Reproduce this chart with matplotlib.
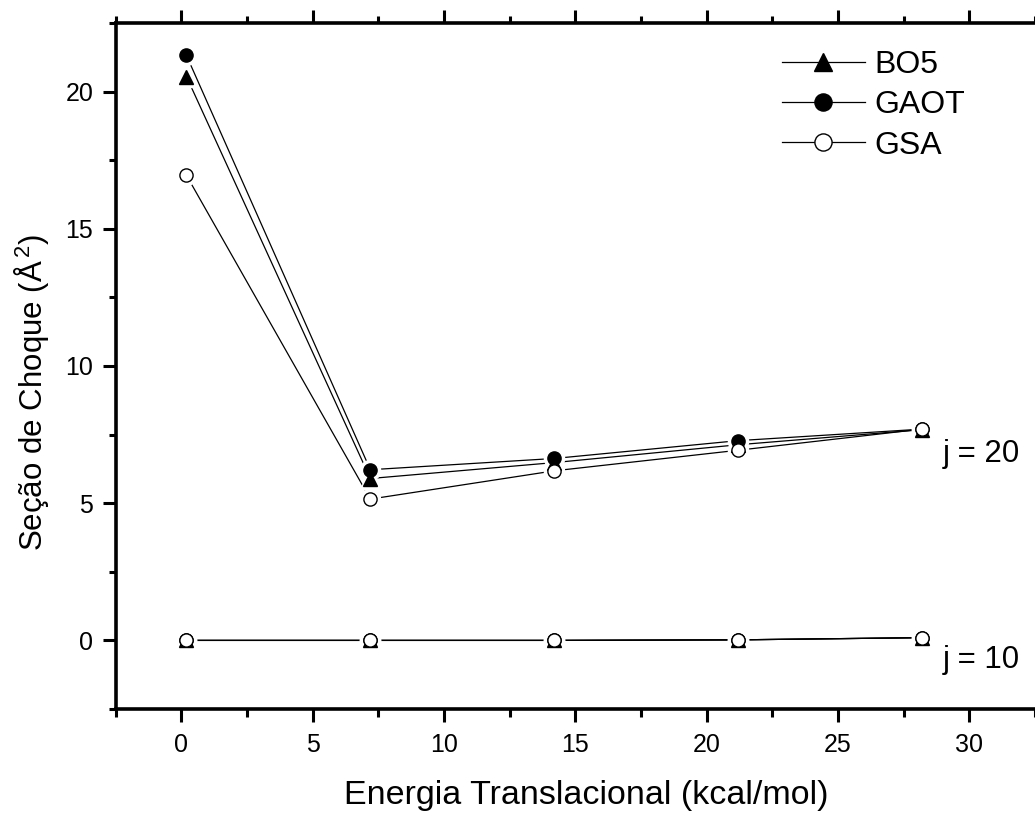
import matplotlib
matplotlib.use("Agg")
import matplotlib.pyplot as plt
from matplotlib.ticker import MultipleLocator

plt.rcParams['font.family'] = ['Liberation Sans', 'DejaVu Sans']
plt.rcParams['mathtext.fontset'] = 'custom'
plt.rcParams['mathtext.rm'] = 'Liberation Sans'

# Energia translacional (kcal/mol)
energia = [0.2, 7.2, 14.2, 21.2, 28.2]

# j = 20
bo5_j20 = [20.55, 5.9, 6.48, 7.13, 7.68]
gaot_j20 = [21.32, 6.22, 6.63, 7.28, 7.7]
gsa_j20 = [16.95, 5.15, 6.18, 6.93, 7.7]

# j = 10
bo5_j10 = [0.0, 0.0, 0.0, 0.02, 0.1]
gaot_j10 = [0.0, 0.0, 0.0, 0.02, 0.1]
gsa_j10 = [0.0, 0.0, 0.0, 0.02, 0.1]

series = [
    ("BO5", bo5_j20, bo5_j10, dict(marker='^', mfc='black', mec='black')),
    ("GAOT", gaot_j20, gaot_j10, dict(marker='o', mfc='black', mec='black')),
    ("GSA", gsa_j20, gsa_j10, dict(marker='o', mfc='white', mec='black')),
]

fig = plt.figure(figsize=(10.35, 8.14), dpi=100)
ax = fig.add_axes([115.5 / 1035, 105 / 814, 919.5 / 1035, 686 / 814])

ms = 9.5
# linhas
for nome, y20, y10, st in series:
    ax.plot(energia, y20, color='black', lw=0.9, zorder=2)
    ax.plot(energia, y10, color='black', lw=0.9, zorder=2)
# halo branco (intervalo entre linha e simbolo)
for nome, y20, y10, st in series:
    for y in (y20, y10):
        ax.plot(energia, y, ls='none', marker=st['marker'], ms=ms + 5,
                mfc='white', mec='white', zorder=3)
# simbolos
for nome, y20, y10, st in series:
    ax.plot(energia, y20, ls='none', ms=ms, mew=1.0, zorder=4, **st)
    ax.plot(energia, y10, ls='none', ms=ms, mew=1.0, zorder=4, **st)

# entradas da legenda
handles = []
for nome, y20, y10, st in series:
    h, = ax.plot([], [], color='black', lw=0.9, ms=ms * 1.3, mew=1.0, label=nome, **st)
    handles.append(h)
leg = ax.legend(handles=handles, loc='upper left', bbox_to_anchor=(0.7, 0.993),
                frameon=False, fontsize=23, handlelength=2.6, handletextpad=0.3,
                labelspacing=0.32, borderpad=0.2)

ax.text(29.0, 6.8, 'j = 20', fontsize=22.5, va='center', ha='left')
ax.text(29.0, -0.72, 'j = 10', fontsize=22.5, va='center', ha='left')

ax.set_xlim(-2.5, 32.5)
ax.set_ylim(-2.5, 22.5)
ax.xaxis.set_major_locator(MultipleLocator(5))
ax.xaxis.set_minor_locator(MultipleLocator(2.5))
ax.yaxis.set_major_locator(MultipleLocator(5))
ax.yaxis.set_minor_locator(MultipleLocator(2.5))

ax.spines['right'].set_visible(False)
for s in ('left', 'bottom', 'top'):
    ax.spines[s].set_linewidth(2.6)

ax.tick_params(which='both', direction='out', top=True, right=False, width=2.2)
ax.tick_params(which='major', length=9.5, labelsize=18)
ax.tick_params(axis='x', which='major', pad=8)
ax.tick_params(axis='y', which='major', pad=6.5)
ax.tick_params(which='minor', length=5.4)
ax.tick_params(axis='x', which='both', labeltop=False)

ax.set_xlabel('Energia Translacional (kcal/mol)', fontsize=24.5)
ax.set_ylabel(r'Seção de Choque (Å$^{\,2}$)', fontsize=22.5)
ax.xaxis.set_label_coords(0.512, -0.104)
ax.yaxis.set_label_coords(-0.07, 0.462)

fig.savefig('out.png', dpi=100)
plt.close(fig)
